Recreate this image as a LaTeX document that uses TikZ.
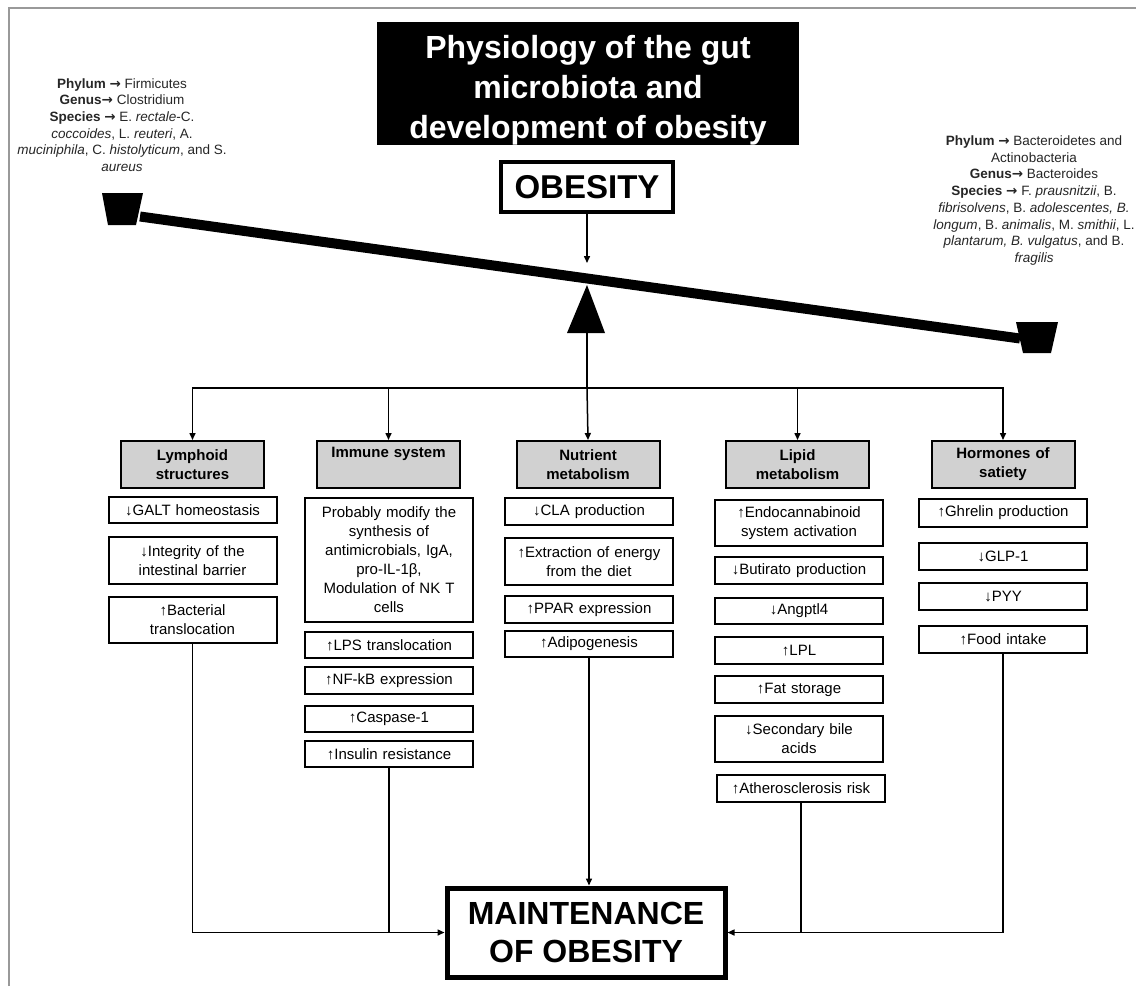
\documentclass[tikz,border=0pt]{standalone}
\usepackage{fontspec}
\setmainfont{Liberation Sans}
\newfontfamily\arrowfont{DejaVu Sans}
\newcommand{\rar}{{\arrowfont\bfseries →}}
\usetikzlibrary{arrows.meta}
\begin{document}
\begin{tikzpicture}[x=1pt,y=-1pt,
  conn/.style={line width=1.5pt},
  arr/.style={conn,-{Triangle[length=7pt,width=6pt]}},
  hdr/.style={draw,line width=2pt,fill=black!18,minimum width=143pt,minimum height=47pt,text width=135pt,align=center,inner sep=0pt,font=\bfseries\fontsize{15}{19}\selectfont},
  item/.style={draw,line width=2pt,fill=white,minimum width=168pt,text width=162pt,align=center,inner sep=0pt,font=\fontsize{15}{19}\selectfont},
  side/.style={align=center,inner sep=0pt,text=black!85,font=\fontsize{13.5}{16.7}\selectfont}]
\useasboundingbox (0,0) rectangle (1136,986);
\fill[white] (0,0) rectangle (1136,986);
% frame
\draw[black!40,line width=1.2pt] (9,986) -- (9,8) -- (1136,8);

% title
\node[fill=black,minimum width=422pt,minimum height=123pt,inner sep=0pt] (title) at (588,83.5) {};
\node[text=white,inner sep=0pt,align=center,
  font=\bfseries\fontsize{32}{40}\selectfont] (titletext) at (588,90) 
  {Physiology of the gut\\microbiota and\\development of obesity};
\node[draw,line width=4pt,minimum width=172pt,minimum height=50pt,inner sep=0pt,
  font=\bfseries\fontsize{33}{38}\selectfont] (obes) at (587,187) {OBESITY};

% side texts
\node[side] (left) at (122,125)
  {\textbf{Phylum} \rar{} Firmicutes\\
   \textbf{Genus}\rar{} Clostridium\\
   \textbf{Species} \rar{} E. \textit{rectale}-C.\\
   \textit{coccoides}, L. \textit{reuteri}, A.\\
   \textit{muciniphila}, C. \textit{histolyticum}, and S.\\
   \textit{aureus}};
\node[side] (right) at (1034,200.5)
  {\textbf{Phylum} \rar{} Bacteroidetes and\\
   Actinobacteria\\
   \textbf{Genus}\rar{} Bacteroides\\
   \textbf{Species} \rar{} F. \textit{prausnitzii}, B.\\
   \textit{fibrisolvens}, B. \textit{adolescentes, B.}\\
   \textit{longum}, B. \textit{animalis}, M. \textit{smithii}, L.\\
   \textit{plantarum, B. vulgatus}, and B.\\
   \textit{fragilis}};

% balance
\draw[line width=10pt] (140,216.5) -- (1020,338.5);
\fill (102,193) -- (143,193) -- (136,225) -- (108,225) -- cycle;
\fill (1016,322) -- (1058,322) -- (1051,353) -- (1023,353) -- cycle;
\fill (587,285) -- (567,333) -- (605,333) -- cycle;
\coordinate (tip) at (587,263);
\coordinate (fulc) at (587,333);
\coordinate (bus) at (587,388);
\draw[arr] (obes.south) -- (tip);

% headers
\node[hdr] (h1) at (192.5,464.5) {Lymphoid\\structures};
\node[hdr] (h2) at (388.5,464.5) {Immune system\\\strut};
\node[hdr] (h3) at (588,464.5) {Nutrient\\metabolism};
\node[hdr] (h4) at (797.5,464.5) {Lipid\\metabolism};
\node[hdr] (h5) at (1003,464.5) {Hormones of\\satiety};

\draw[conn] (fulc) -- (bus);
\draw[arr] (bus) -- (h3.north);
\draw[arr] (bus) -| (h1.north);
\draw[arr] (bus) -| (h2.north);
\draw[arr] (bus) -| (h4.north);
\draw[arr] (bus) -| (h5.north);

% Lymphoid
\node[item,minimum height=26pt] (a1) at (192.5,510) {↓GALT homeostasis};
\node[item,minimum height=47pt] (a2) at (192.5,560.5) {↓Integrity of the\\intestinal barrier};
\node[item,minimum height=46pt] (a3) at (192.5,620) {↑Bacterial\\translocation};
% Immune
\node[item,minimum height=124pt] (b1) at (389,560) {Probably modify the\\synthesis of\\antimicrobials, IgA,\\pro-IL-1β,\\Modulation of NK T\\cells};
\node[item,minimum height=26pt] (b2) at (389,645) {↑LPS translocation};
\node[item,minimum height=27pt] (b3) at (389,680.5) {↑NF-kB expression};
\node[item,minimum height=26pt] (b4) at (389,719) {↑Caspase-1};
\node[item,minimum height=26pt] (b5) at (389,754) {↑Insulin resistance};
% Nutrient
\node[item,minimum height=27pt] (c1) at (589,511.5) {↓CLA production};
\node[item,minimum height=47pt] (c2) at (589,561.5) {↑Extraction of energy\\from the diet};
\node[item,minimum height=27pt] (c3) at (589,609.5) {↑PPAR expression};
\node[item,minimum height=26pt] (c4) at (589,644) {↑Adipogenesis};
% Lipid
\node[item,minimum height=46pt] (d1) at (799,523) {↑Endocannabinoid\\system activation};
\node[item,minimum height=27pt] (d2) at (799,570.5) {↓Butirato production};
\node[item,minimum height=26pt] (d3) at (799,611) {↓Angptl4};
\node[item,minimum height=27pt] (d4) at (799,650.5) {↑LPL};
\node[item,minimum height=27pt] (d5) at (799,689.5) {↑Fat storage};
\node[item,minimum height=46pt] (d6) at (799,739) {↓Secondary bile\\acids};
\node[item,minimum height=27pt] (d7) at (801,788.5) {↑Atherosclerosis risk};
% Hormones
\node[item,minimum height=28pt] (e1) at (1003,513) {↑Ghrelin production};
\node[item,minimum height=27pt] (e2) at (1003,556.5) {↓GLP-1};
\node[item,minimum height=27pt] (e3) at (1003,596.5) {↓PYY};
\node[item,minimum height=27pt] (e4) at (1003,639.5) {↑Food intake};

% maintenance
\node[draw,line width=5pt,minimum width=278pt,minimum height=89pt,inner sep=0pt,align=center,
  font=\bfseries\fontsize{32}{38}\selectfont] (maint) at (586,932.5) {MAINTENANCE\\OF OBESITY};

\draw[arr] (a3.south) |- (maint.west);
\draw[conn] (b5.south) -- (b5.south |- maint.west);
\draw[arr] (c4.south) -- (c4.south |- maint.north);
\draw[arr] (e4.south) |- (maint.east);
\draw[conn] (d7.south) -- (d7.south |- maint.east);
\end{tikzpicture}
\end{document}
